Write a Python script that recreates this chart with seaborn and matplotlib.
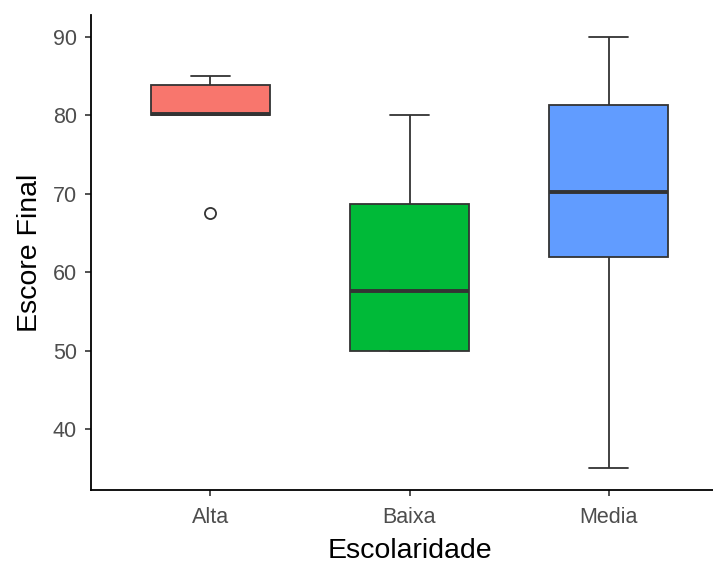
import matplotlib
matplotlib.use("Agg")
import matplotlib.pyplot as plt
import seaborn as sns
import pandas as pd

categories = ["Alta", "Baixa", "Media"]
alta_scores = [67.5, 80.0, 80.0, 80.0, 80.2, 83.0, 83.8, 84.0, 85.0]
baixa_scores = [50.0, 50.0, 57.6, 68.7, 80.0]
media_scores = [35.0, 61.9, 70.2, 81.3, 90.0]
colors = ["#F8766D", "#00BA38", "#619CFF"]
y_ticks = [40, 50, 60, 70, 80, 90]

rows = []
for cat, vals in zip(categories, [alta_scores, baixa_scores, media_scores]):
    for v in vals:
        rows.append({"Escolaridade": cat, "Escore Final": v})
df = pd.DataFrame(rows)

sns.set_theme(style="ticks")
plt.rcParams["font.family"] = ["Liberation Sans", "DejaVu Sans"]

fig = plt.figure(figsize=(7.13, 5.66), dpi=100)
ax = fig.add_axes([91 / 713, (566 - 490) / 566, (728 - 91) / 713, (490 - 15) / 566])

sns.boxplot(
    data=df, x="Escolaridade", y="Escore Final", hue="Escolaridade",
    order=categories, hue_order=categories, palette=colors, saturation=1,
    width=0.6, linecolor="#333333", linewidth=1.3, legend=False,
    medianprops={"linewidth": 2.8, "color": "#333333"},
    flierprops={"marker": "o", "markerfacecolor": "white",
                "markeredgecolor": "#333333", "markersize": 8,
                "markeredgewidth": 1.3},
    capwidths=0.2, ax=ax,
)

ax.set_xlim(-0.6, 2.6)
ax.set_ylim(32.25, 92.75)
ax.set_yticks(y_ticks)
ax.tick_params(axis="both", colors="#333333", labelcolor="#4D4D4D",
               labelsize=15.5, length=4, width=1.2)
ax.tick_params(axis="y", pad=6)
ax.tick_params(axis="x", pad=8.5)
for s in ["top", "right"]:
    ax.spines[s].set_visible(False)
for s in ["left", "bottom"]:
    ax.spines[s].set_color("black")
    ax.spines[s].set_linewidth(1.3)
ax.set_xlabel("Escolaridade", fontsize=20.5, color="black", labelpad=7)
ax.set_ylabel("Escore Final", fontsize=20.5, color="black", labelpad=7)

fig.savefig("out.png", dpi=100)
